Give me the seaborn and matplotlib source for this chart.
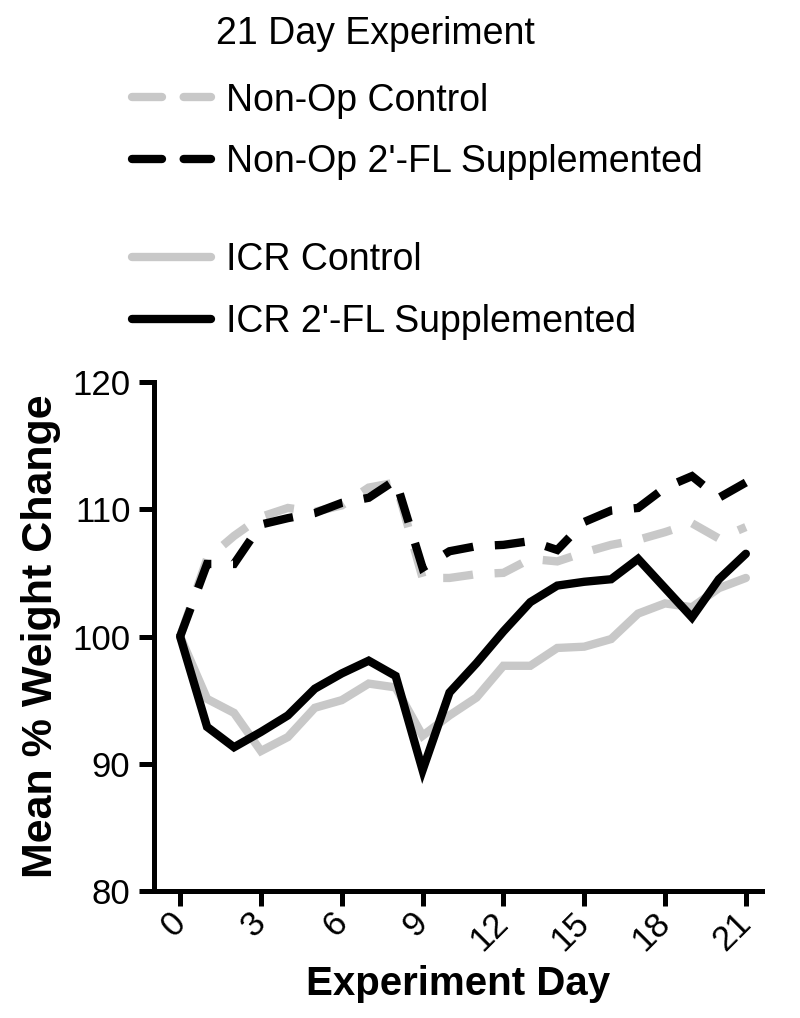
import matplotlib

matplotlib.use("Agg")

import matplotlib.pyplot as plt
import pandas as pd
import seaborn as sns
from matplotlib.lines import Line2D

days = list(range(22))

nonop_control = [100, 106.1, 107.9, 109.4, 110.1, 109.8, 110.3, 111.7, 112.1, 104.6, 104.6,
                 104.9, 105.0, 106.1, 105.9, 106.6, 107.2, 107.6, 108.2, 108.9, 107.7, 108.6]
nonop_fl = [100, 105.7, 105.7, 108.8, 109.3, 109.7, 110.5, 110.9, 112.3, 105.4, 106.7,
            107.1, 107.2, 107.5, 106.8, 109.0, 109.9, 110.1, 111.7, 112.6, 110.9, 112.1]
icr_control = [100, 95.1, 94.0, 91.0, 92.1, 94.4, 95.0, 96.3, 96.0, 92.2, 93.8,
               95.2, 97.7, 97.7, 99.1, 99.2, 99.8, 101.8, 102.6, 102.3, 103.8, 104.6]
icr_fl = [100, 92.9, 91.3, 92.5, 93.8, 95.9, 97.1, 98.1, 96.9, 89.5, 95.6,
          97.9, 100.4, 102.7, 104.0, 104.3, 104.5, 106.1, 103.8, 101.5, 104.5, 106.5]

groups = ["ICR Control", "Non-Op Control", "ICR 2'-FL Supplemented", "Non-Op 2'-FL Supplemented"]
series = [icr_control, nonop_control, icr_fl, nonop_fl]

rows = []
for g, vals in zip(groups, series):
    for d, v in zip(days, vals):
        rows.append({"day": d, "weight": v, "group": g})
df = pd.DataFrame(rows)

GRAY = "#c8c8c8"
palette = {
    "ICR Control": GRAY,
    "Non-Op Control": GRAY,
    "ICR 2'-FL Supplemented": "black",
    "Non-Op 2'-FL Supplemented": "black",
}
dashes = {
    "ICR Control": "",
    "Non-Op Control": (3.6, 2.6),
    "ICR 2'-FL Supplemented": "",
    "Non-Op 2'-FL Supplemented": (3.6, 2.6),
}

sns.set_style("ticks")
plt.rcParams["font.family"] = ["Liberation Sans", "DejaVu Sans"]
for key in ["text.color", "axes.labelcolor", "xtick.color", "ytick.color"]:
    plt.rcParams[key] = "black"

fig = plt.figure(figsize=(8, 10.18), dpi=100)
ax = fig.add_axes([0.1925, 0.1247, 0.76, 0.5001])

LW = 6
sns.lineplot(data=df, x="day", y="weight", hue="group", style="group",
             hue_order=groups, style_order=groups, palette=palette, dashes=dashes,
             linewidth=LW, legend=False, ax=ax)
for ln in ax.get_lines():
    ln.set_dash_capstyle("butt")
    ln.set_solid_joinstyle("miter")
    ln.set_dash_joinstyle("miter")

ax.set_xlim(-0.97, 21.6)
ax.set_ylim(80, 120)
ax.set_xticks(range(0, 22, 3))
ax.set_yticks([80, 90, 100, 110, 120])
ax.tick_params(axis="both", width=3.6, length=11, labelsize=25, color="black")
ax.tick_params(axis="y", pad=6)
ax.tick_params(axis="x", pad=8)
plt.setp(ax.get_xticklabels(), rotation=45, ha="right", va="center", rotation_mode="anchor")
for s in ["left", "bottom"]:
    ax.spines[s].set_linewidth(3.6)
    ax.spines[s].set_color("black")
sns.despine(ax=ax)

ax.set_xlabel("Experiment Day", fontsize=29, fontweight="bold", labelpad=6)
ax.set_ylabel("Mean % Weight Change", fontsize=31, fontweight="bold", labelpad=8)

fig.text(0.469, 0.967, "21 Day Experiment", fontsize=27, ha="center", va="center")

def handle(color, dashed):
    return Line2D([], [], color=color, linewidth=LW, linestyle=(0, (3.6, 2.6)) if dashed else "-",
                  dash_capstyle="round", solid_capstyle="round")

leg_kw = dict(frameon=False, fontsize=27, handlelength=2.1, handletextpad=0.4,
              labelspacing=0.68, borderpad=0, borderaxespad=0, loc="center left")
leg1 = fig.legend([handle(GRAY, True), handle("black", True)],
                  ["Non-Op Control", "Non-Op 2'-FL Supplemented"],
                  bbox_to_anchor=(0.165, 0.871), **leg_kw)
leg2 = fig.legend([handle(GRAY, False), handle("black", False)],
                  ["ICR Control", "ICR 2'-FL Supplemented"],
                  bbox_to_anchor=(0.165, 0.714), **leg_kw)

fig.savefig("out.png", dpi=100)
